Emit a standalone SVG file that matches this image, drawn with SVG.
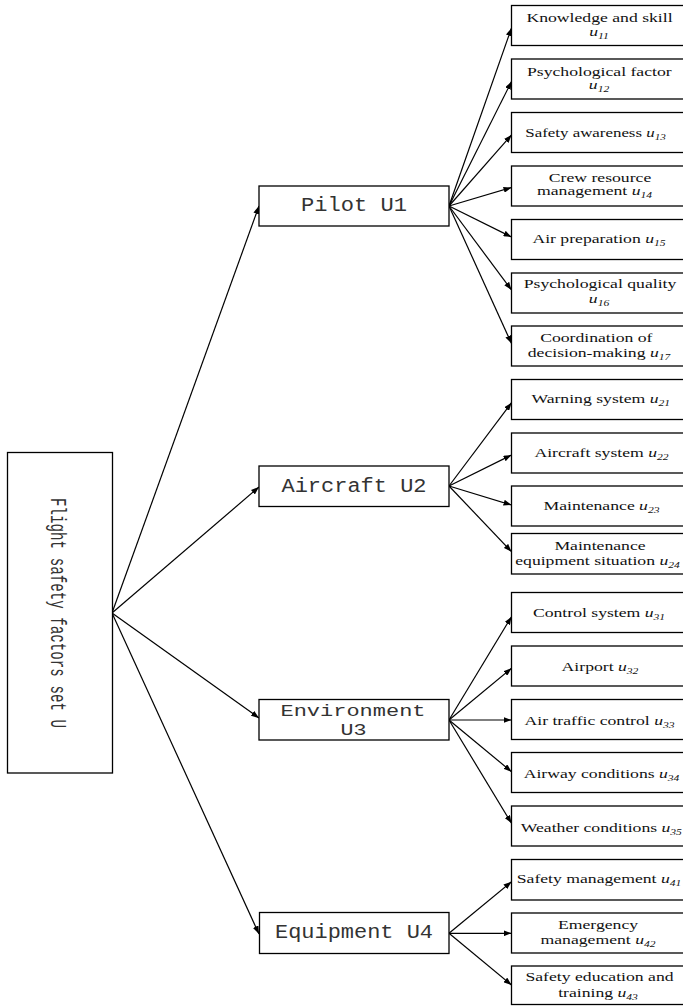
<svg xmlns="http://www.w3.org/2000/svg" width="683" height="1006" viewBox="0 0 683 1006">
<style>
.box{fill:#fff;stroke:#000;stroke-width:1.3}
.mid{font-family:"Liberation Mono","DejaVu Sans Mono",monospace;font-size:20px;fill:#333;text-anchor:middle}
.root{font-family:"Liberation Mono","DejaVu Sans Mono",monospace;font-size:17px;fill:#333;text-anchor:middle}
.leaf{font-family:"Liberation Serif","Times New Roman",serif;font-size:13px;fill:#111;text-anchor:middle}
.it{font-style:italic}
.sub{font-style:italic;font-size:8.5px}
.con line{stroke:#000;stroke-width:1.2;marker-end:url(#ah)}
</style>
<defs>
<marker id="ah" markerWidth="8" markerHeight="6" refX="8" refY="3" orient="auto" markerUnits="userSpaceOnUse"><path d="M0,0 L8,3 L0,6 z" fill="#000"/></marker>
</defs>
<rect width="683" height="1006" fill="#fff"/>
<g id="connectors" class="con">
<line x1="112" y1="613" x2="259" y2="206"/>
<line x1="112" y1="613" x2="259" y2="487"/>
<line x1="112" y1="613" x2="259" y2="718"/>
<line x1="112" y1="613" x2="259" y2="934"/>
<line x1="449" y1="206" x2="511.5" y2="28"/>
<line x1="449" y1="206" x2="511.5" y2="81.5"/>
<line x1="449" y1="206" x2="511.5" y2="135"/>
<line x1="449" y1="206" x2="511.5" y2="187.5"/>
<line x1="449" y1="206" x2="511.5" y2="237"/>
<line x1="449" y1="206" x2="511.5" y2="290"/>
<line x1="449" y1="206" x2="511.5" y2="343.5"/>
<line x1="449" y1="486" x2="511.5" y2="402.7"/>
<line x1="449" y1="486" x2="511.5" y2="455"/>
<line x1="449" y1="486" x2="511.5" y2="505"/>
<line x1="449" y1="486" x2="511.5" y2="551.7"/>
<line x1="449" y1="720" x2="511.5" y2="616.7"/>
<line x1="449" y1="720" x2="511.5" y2="668.3"/>
<line x1="449" y1="720" x2="511.5" y2="720"/>
<line x1="449" y1="720" x2="511.5" y2="771.7"/>
<line x1="449" y1="720" x2="511.5" y2="823.3"/>
<line x1="449" y1="933.3" x2="511.5" y2="881.7"/>
<line x1="449" y1="933.3" x2="511.5" y2="933.3"/>
<line x1="449" y1="933.3" x2="511.5" y2="985"/>
</g>
<g id="root">
<rect class="box" x="7.5" y="452.5" width="105" height="320.5"/>
<text class="root" transform="translate(51,613) rotate(90) scale(1,1.3)" textLength="230" lengthAdjust="spacingAndGlyphs">Flight safety factors set U</text>
</g>
<g id="pilot">
<rect class="box" x="259" y="186" width="190" height="40"/>
<text class="mid" x="354" y="211" textLength="106" lengthAdjust="spacingAndGlyphs">Pilot U1</text>
</g>
<g id="aircraft">
<rect class="box" x="259" y="466" width="190" height="40.5"/>
<text class="mid" x="354" y="492" textLength="145" lengthAdjust="spacingAndGlyphs">Aircraft U2</text>
</g>
<g id="environment">
<rect class="box" x="259" y="699.5" width="190" height="40.5"/>
<text class="mid" x="353" y="715.5" style="font-size:17px" textLength="145" lengthAdjust="spacingAndGlyphs">Environment</text>
<text class="mid" x="353.5" y="735" style="font-size:17px" textLength="26" lengthAdjust="spacingAndGlyphs">U3</text>
</g>
<g id="equipment">
<rect class="box" x="259.5" y="912.5" width="189.5" height="41"/>
<text class="mid" x="354" y="938" textLength="158" lengthAdjust="spacingAndGlyphs">Equipment U4</text>
</g>
<g id="u11">
<rect class="box" x="511.5" y="5.5" width="180" height="40"/>
<text class="leaf" transform="translate(599.5,22) scale(1.36,1)">Knowledge and skill</text>
<text class="leaf" transform="translate(599,35.5) scale(1.36,1)"><tspan class="it">u</tspan><tspan class="sub" dy="3">11</tspan></text>
</g>
<g id="u12">
<rect class="box" x="511.5" y="59" width="180" height="40"/>
<text class="leaf" transform="translate(599.3,75.5) scale(1.36,1)">Psychological factor</text>
<text class="leaf" transform="translate(599,89) scale(1.36,1)"><tspan class="it">u</tspan><tspan class="sub" dy="3">12</tspan></text>
</g>
<g id="u13">
<rect class="box" x="511.5" y="112.5" width="180" height="40"/>
<text class="leaf" transform="translate(595.5,136.5) scale(1.3,1)">Safety awareness <tspan class="it">u</tspan><tspan class="sub" dy="3">13</tspan></text>
</g>
<g id="u14">
<rect class="box" x="511.5" y="166" width="180" height="40"/>
<text class="leaf" transform="translate(600,181.7) scale(1.36,1)">Crew resource</text>
<text class="leaf" transform="translate(594.5,195) scale(1.36,1)">management <tspan class="it">u</tspan><tspan class="sub" dy="3">14</tspan></text>
</g>
<g id="u15">
<rect class="box" x="511.5" y="219.5" width="180" height="40"/>
<text class="leaf" transform="translate(599,243.3) scale(1.36,1)">Air preparation <tspan class="it">u</tspan><tspan class="sub" dy="3">15</tspan></text>
</g>
<g id="u16">
<rect class="box" x="511.5" y="273" width="180" height="40"/>
<text class="leaf" transform="translate(600,287.7) scale(1.36,1)">Psychological quality</text>
<text class="leaf" transform="translate(599,303) scale(1.36,1)"><tspan class="it">u</tspan><tspan class="sub" dy="3">16</tspan></text>
</g>
<g id="u17">
<rect class="box" x="511.5" y="326" width="180" height="40"/>
<text class="leaf" transform="translate(596.3,341.7) scale(1.36,1)">Coordination of</text>
<text class="leaf" transform="translate(599,356.7) scale(1.36,1)">decision-making <tspan class="it">u</tspan><tspan class="sub" dy="3">17</tspan></text>
</g>
<g id="u21">
<rect class="box" x="511.5" y="379.5" width="180" height="40"/>
<text class="leaf" transform="translate(600.7,403.3) scale(1.36,1)">Warning system <tspan class="it">u</tspan><tspan class="sub" dy="3">21</tspan></text>
</g>
<g id="u22">
<rect class="box" x="511.5" y="433" width="180" height="40"/>
<text class="leaf" transform="translate(601.5,457.3) scale(1.36,1)">Aircraft system <tspan class="it">u</tspan><tspan class="sub" dy="3">22</tspan></text>
</g>
<g id="u23">
<rect class="box" x="511.5" y="486" width="180" height="40"/>
<text class="leaf" transform="translate(601.5,510) scale(1.36,1)">Maintenance <tspan class="it">u</tspan><tspan class="sub" dy="3">23</tspan></text>
</g>
<g id="u24">
<rect class="box" x="511.5" y="533.5" width="180" height="40.5"/>
<text class="leaf" transform="translate(600,550) scale(1.36,1)">Maintenance</text>
<text class="leaf" transform="translate(597.5,565) scale(1.36,1)">equipment situation <tspan class="it">u</tspan><tspan class="sub" dy="3">24</tspan></text>
</g>
<g id="u31">
<rect class="box" x="511.5" y="592.5" width="180" height="40"/>
<text class="leaf" transform="translate(599,616.7) scale(1.36,1)">Control system <tspan class="it">u</tspan><tspan class="sub" dy="3">31</tspan></text>
</g>
<g id="u32">
<rect class="box" x="511.5" y="646" width="180" height="40"/>
<text class="leaf" transform="translate(600,671) scale(1.36,1)">Airport <tspan class="it">u</tspan><tspan class="sub" dy="3">32</tspan></text>
</g>
<g id="u33">
<rect class="box" x="511.5" y="699.5" width="180" height="40"/>
<text class="leaf" transform="translate(599.5,725) scale(1.36,1)">Air traffic control <tspan class="it">u</tspan><tspan class="sub" dy="3">33</tspan></text>
</g>
<g id="u34">
<rect class="box" x="511.5" y="752.5" width="180" height="40"/>
<text class="leaf" transform="translate(601.5,777.7) scale(1.36,1)">Airway conditions <tspan class="it">u</tspan><tspan class="sub" dy="3">34</tspan></text>
</g>
<g id="u35">
<rect class="box" x="511.5" y="806" width="180" height="40"/>
<text class="leaf" transform="translate(601.3,831.7) scale(1.36,1)">Weather conditions <tspan class="it">u</tspan><tspan class="sub" dy="3">35</tspan></text>
</g>
<g id="u41">
<rect class="box" x="511.5" y="859.5" width="180" height="40.5"/>
<text class="leaf" transform="translate(599,883.3) scale(1.36,1)">Safety management <tspan class="it">u</tspan><tspan class="sub" dy="3">41</tspan></text>
</g>
<g id="u42">
<rect class="box" x="511.5" y="913" width="180" height="40"/>
<text class="leaf" transform="translate(598,929) scale(1.36,1)">Emergency</text>
<text class="leaf" transform="translate(598,944.3) scale(1.36,1)">management <tspan class="it">u</tspan><tspan class="sub" dy="3">42</tspan></text>
</g>
<g id="u43">
<rect class="box" x="511.5" y="966" width="180" height="38.5"/>
<text class="leaf" transform="translate(599.5,981) scale(1.36,1)">Safety education and</text>
<text class="leaf" transform="translate(598,996.7) scale(1.36,1)">training <tspan class="it">u</tspan><tspan class="sub" dy="3">43</tspan></text>
</g>
</svg>
